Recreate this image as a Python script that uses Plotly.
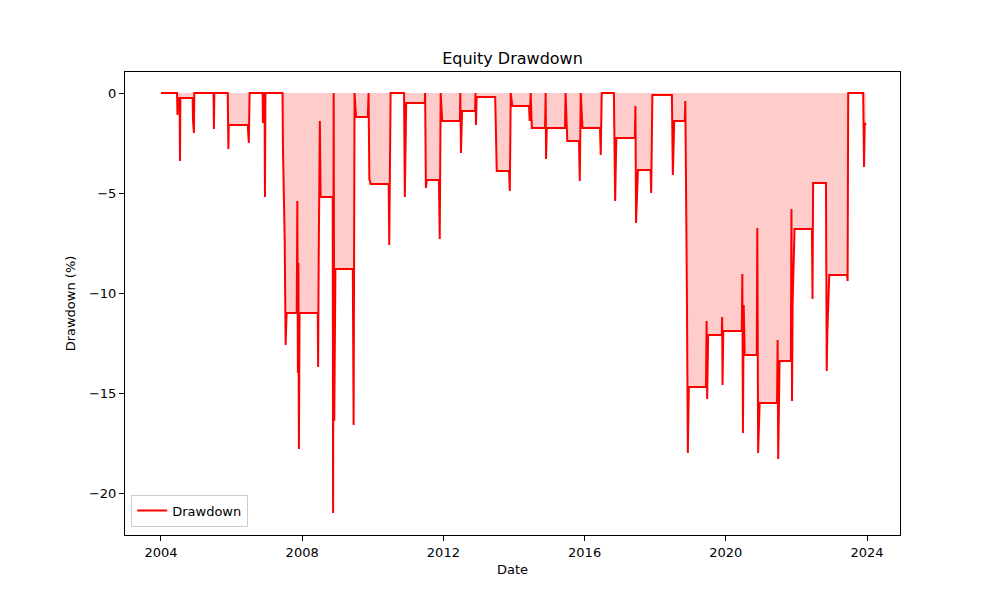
import plotly.graph_objects as go

dates = [
    "2004-01-01", "2004-06-15", "2004-06-20", "2004-06-25", "2004-07-12", "2004-07-16", "2004-07-20",
    "2004-11-24", "2004-11-28", "2004-12-07", "2004-12-11", "2005-06-28", "2005-07-02", "2005-07-06",
    "2005-11-22", "2005-11-28", "2005-12-03", "2006-06-17", "2006-06-28", "2006-07-06", "2006-11-18",
    "2006-11-21", "2006-11-25", "2006-12-08", "2006-12-12", "2006-12-17", "2007-06-12", "2007-06-16",
    "2007-07-04", "2007-07-14", "2007-07-24", "2007-11-06", "2007-11-12", "2007-11-18", "2007-11-23",
    "2007-11-28", "2007-12-05", "2008-06-10", "2008-06-14", "2008-06-20", "2008-07-02", "2008-07-10",
    "2008-11-12", "2008-11-16", "2008-11-22", "2008-11-28", "2008-12-10", "2009-06-08", "2009-06-16",
    "2009-06-26", "2009-07-12", "2009-11-10", "2009-11-18", "2009-11-26", "2009-12-10", "2010-06-14",
    "2010-06-20", "2010-07-04", "2010-11-20", "2010-11-28", "2010-12-12", "2011-06-22", "2011-06-26",
    "2011-07-04", "2011-07-14", "2011-11-16", "2011-11-24", "2011-12-04", "2011-12-20", "2012-06-20",
    "2012-06-24", "2012-07-01", "2012-07-12", "2012-11-24", "2012-11-28", "2012-12-03", "2012-12-10",
    "2013-06-20", "2013-06-26", "2013-07-06", "2013-11-10", "2013-11-18", "2013-11-28", "2013-12-14",
    "2014-06-05", "2014-06-12", "2014-06-22", "2014-07-04", "2014-11-18", "2014-11-24", "2014-11-28",
    "2014-12-06", "2015-06-12", "2015-06-18", "2015-07-06", "2015-11-04", "2015-11-12", "2015-11-22",
    "2015-12-10", "2016-06-08", "2016-06-16", "2016-06-26", "2016-10-30", "2016-11-04", "2016-11-12",
    "2016-11-24", "2017-06-04", "2017-06-10", "2017-06-16", "2017-07-06", "2017-11-14", "2017-11-20",
    "2017-12-02", "2018-06-22", "2018-07-02", "2018-07-16", "2018-11-02", "2018-11-08", "2018-11-16",
    "2018-11-24", "2018-12-04", "2018-12-14", "2019-06-10", "2019-06-16", "2019-06-22", "2019-07-02",
    "2019-11-20", "2019-11-24", "2019-11-28", "2019-12-06", "2020-06-14", "2020-06-20", "2020-06-26",
    "2020-07-04", "2020-07-14", "2020-11-16", "2020-11-22", "2020-11-30", "2020-12-16", "2021-06-14",
    "2021-06-20", "2021-06-26", "2021-07-10", "2021-11-04", "2021-11-10", "2021-11-16", "2021-11-22",
    "2021-12-12", "2022-06-10", "2022-06-16", "2022-06-22", "2022-11-02", "2022-11-10", "2022-11-16",
    "2022-12-06", "2023-06-08", "2023-06-14", "2023-06-20", "2023-11-22", "2023-12-01", "2023-12-08",
    "2023-12-20",
]

drawdown = [
    0, 0, -1.1, -0.25, -0.25, -3.4, -0.25,
    -0.25, -1.4, -2.0, 0, 0, -1.8, 0,
    0, -2.8, -1.6, -1.6, -2.5, 0, 0,
    -1.5, 0, 0, -5.2, 0, 0, -2.7,
    -7.3, -12.6, -11.0, -11.0, -5.4, -14.0, -8.5,
    -17.8, -11.0, -11.0, -13.7, -8.2, -1.4, -5.2,
    -5.2, -21.0, 0, -16.4, -8.8, -8.8, -16.6,
    0, -1.2, -1.2, 0, -4.3, -4.55, -4.55,
    -7.6, 0, 0, -5.2, -0.5, -0.5, 0,
    -4.75, -4.35, -4.35, -7.3, 0, -1.4, -1.4,
    0, -3.0, -0.9, -0.9, 0, -1.6, -0.2,
    -0.2, -2.0, -3.9, -3.9, -4.9, 0, -0.65,
    -0.65, -1.4, 0, -1.75, -1.75, 0, -3.3,
    -1.75, -1.75, 0, -2.4, -2.4, -4.4, 0,
    -1.75, -1.75, -3.1, 0, 0, -1.7, -5.4,
    -2.25, -2.25, -0.65, -6.5, -3.85, -3.85, -5.0,
    -0.1, -0.1, -4.1, -1.4, -1.4, -0.4, -4.5,
    -9.8, -18.0, -14.7, -14.7, -11.4, -15.3, -12.1,
    -12.1, -11.2, -14.6, -11.9, -11.9, -9.05, -17.0,
    -10.6, -13.1, -13.1, -6.75, -18.0, -15.5, -15.5,
    -12.35, -18.3, -13.4, -13.4, -5.8, -15.4, -10.5,
    -6.8, -6.8, -10.3, -4.5, -4.5, -13.9, -12.0,
    -9.1, -9.1, -9.4, 0, 0, -3.7, -1.5,
    -1.6,
]

x_tick_vals = ["2004-01-01", "2008-01-01", "2012-01-01", "2016-01-01", "2020-01-01", "2024-01-01"]
x_tick_text = ["2004", "2008", "2012", "2016", "2020", "2024"]
y_tick_vals = [0, -5, -10, -15, -20]
y_tick_text = ["0", "\u22125", "\u221210", "\u221215", "\u221220"]

font_family = "DejaVu Sans"

fig = go.Figure()
# shaded area (no legend entry)
fig.add_trace(go.Scatter(
    x=dates, y=drawdown, mode="lines", showlegend=False, hoverinfo="skip",
    line=dict(width=0, color="rgba(255,0,0,0)"),
    fill="tozeroy", fillcolor="rgba(255,0,0,0.2)",
))
# drawdown line
fig.add_trace(go.Scatter(
    x=dates, y=drawdown, mode="lines", name="Drawdown",
    line=dict(color="red", width=2),
))

fig.update_layout(
    width=1000, height=600,
    paper_bgcolor="white", plot_bgcolor="white",
    margin=dict(l=117, r=108, t=64, b=73),
    font=dict(family=font_family, size=13, color="black"),
    title=dict(text="Equity Drawdown", x=0.5, xref="paper", xanchor="center",
               y=1 - 50 / 600, yref="container", yanchor="middle",
               font=dict(size=16, family=font_family, color="black")),
    showlegend=True,
    legend=dict(x=0.008, y=0.018, xanchor="left", yanchor="bottom",
                bgcolor="rgba(255,255,255,0.8)", bordercolor="#cccccc", borderwidth=1,
                font=dict(size=13, family=font_family)),
    xaxis=dict(
        type="date", range=["2002-12-25", "2024-12-07"],
        tickvals=x_tick_vals, ticktext=x_tick_text,
        showgrid=False, zeroline=False,
        showline=True, linecolor="black", linewidth=1, mirror=True,
        ticks="outside", ticklen=5, tickwidth=1, tickcolor="black",
        title=dict(text="Date", standoff=6, font=dict(size=13)),
    ),
    yaxis=dict(
        range=[-22.1, 1.05],
        tickvals=y_tick_vals, ticktext=y_tick_text,
        showgrid=False, zeroline=False,
        showline=True, linecolor="black", linewidth=1, mirror=True,
        ticks="outside", ticklen=5, tickwidth=1, tickcolor="black",
        title=dict(text="Drawdown (%)", standoff=10, font=dict(size=13)),
    ),
)

fig.write_html("out.html")
